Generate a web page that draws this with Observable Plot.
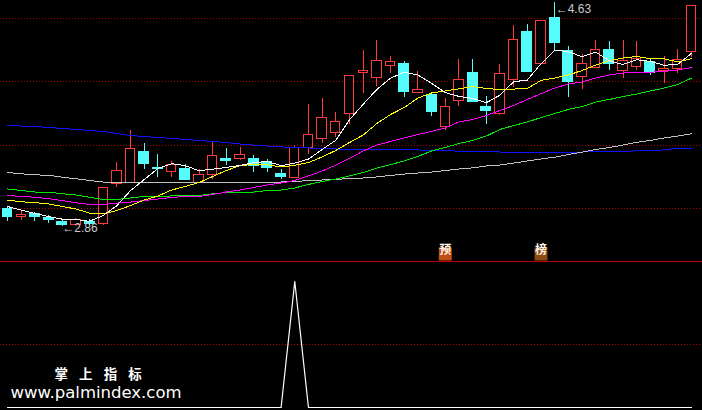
<!DOCTYPE html>
<html><head><meta charset="utf-8">
<script src="https://cdn.jsdelivr.net/npm/d3@7"></script>
<script src="https://cdn.jsdelivr.net/npm/@observablehq/plot@0.6"></script>
<style>
html,body{margin:0;padding:0;background:#000;overflow:hidden;}
#chart{width:702px;}
#chart svg{display:block;}
</style></head><body><div id="chart"></div>
<script>
// Daily candles (price)
const open  = [3.000,2.929,2.961,2.929,2.897,2.866,2.897,2.874,3.197,3.205,3.450,3.324,3.292,3.316,3.205,3.268,3.395,3.387,3.395,3.371,3.276,3.237,3.474,3.545,3.600,3.750,4.068,4.034,4.123,4.145,3.910,3.900,3.640,3.845,4.074,3.805,3.750,4.018,4.397,4.137,4.508,4.247,4.042,4.113,4.255,4.089,4.121,4.161,4.084,4.105,4.232];
const high  = [3.008,2.976,2.968,2.945,2.905,2.921,2.913,3.158,3.363,3.616,3.513,3.426,3.371,3.347,3.308,3.521,3.474,3.482,3.418,3.387,3.308,3.497,3.821,3.868,3.758,4.050,4.247,4.326,4.200,4.161,4.082,3.900,3.868,4.176,4.176,3.884,4.137,4.445,4.453,4.484,4.630,4.279,4.216,4.326,4.318,4.326,4.318,4.176,4.200,4.255,4.595];
const low   = [2.897,2.905,2.897,2.882,2.860,2.862,2.866,2.866,3.166,3.205,3.308,3.245,3.245,3.221,3.197,3.229,3.340,3.379,3.284,3.284,3.229,3.237,3.426,3.513,3.561,3.663,3.908,3.963,4.066,3.876,3.908,3.726,3.616,3.805,3.837,3.663,3.734,3.955,4.074,4.137,4.247,3.876,3.940,4.105,4.089,4.026,4.089,4.050,3.987,4.066,4.192];
const close = [2.929,2.945,2.929,2.909,2.868,2.913,2.874,3.158,3.300,3.466,3.347,3.308,3.347,3.221,3.268,3.411,3.371,3.426,3.332,3.316,3.245,3.474,3.584,3.711,3.679,4.050,4.089,4.168,4.158,3.916,3.937,3.758,3.805,4.011,3.837,3.766,4.058,4.334,4.074,4.484,4.303,3.995,4.137,4.255,4.137,4.161,4.184,4.066,4.105,4.176,4.595];

// Moving averages
const ma5   = [3.016,2.988,2.961,2.937,2.916,2.913,2.899,2.945,3.023,3.142,3.229,3.316,3.354,3.338,3.298,3.311,3.324,3.340,3.362,3.371,3.338,3.358,3.390,3.466,3.538,3.700,3.823,3.940,4.029,4.076,4.054,3.988,3.915,3.885,3.869,3.835,3.895,4.001,4.014,4.143,4.251,4.238,4.198,4.235,4.165,4.137,4.175,4.161,4.131,4.138,4.225];
const ma10  = [3.067,3.053,3.047,3.036,3.016,2.996,2.964,2.957,2.984,3.024,3.067,3.099,3.146,3.174,3.205,3.253,3.300,3.340,3.347,3.345,3.328,3.341,3.363,3.407,3.458,3.521,3.580,3.671,3.742,3.797,3.872,3.912,3.928,3.945,3.963,3.947,3.940,3.943,3.947,4.011,4.030,4.054,4.089,4.133,4.168,4.188,4.200,4.182,4.182,4.157,4.184];
const ma20  = [3.103,3.095,3.089,3.077,3.063,3.045,3.032,3.032,3.043,3.051,3.063,3.075,3.087,3.095,3.095,3.111,3.130,3.146,3.166,3.186,3.201,3.221,3.257,3.296,3.343,3.395,3.454,3.501,3.529,3.557,3.584,3.608,3.636,3.683,3.703,3.734,3.774,3.813,3.861,3.906,3.951,3.983,3.999,4.030,4.054,4.070,4.076,4.076,4.082,4.093,4.113];
const ma60  = [3.154,3.142,3.130,3.129,3.116,3.107,3.089,3.071,3.071,3.083,3.095,3.095,3.099,3.103,3.103,3.116,3.126,3.126,3.130,3.142,3.146,3.162,3.190,3.213,3.233,3.257,3.284,3.320,3.347,3.375,3.411,3.454,3.482,3.513,3.537,3.572,3.624,3.655,3.683,3.718,3.750,3.782,3.805,3.841,3.861,3.884,3.904,3.928,3.951,3.979,4.030];
const ma120 = [3.284,3.274,3.266,3.262,3.247,3.235,3.221,3.209,3.208,3.208,3.207,3.205,3.205,3.205,3.205,3.204,3.203,3.203,3.203,3.203,3.209,3.213,3.221,3.225,3.231,3.235,3.241,3.249,3.261,3.272,3.280,3.288,3.300,3.312,3.321,3.336,3.343,3.359,3.375,3.391,3.405,3.426,3.445,3.466,3.482,3.501,3.523,3.537,3.557,3.572,3.590];
const ma250 = [3.659,3.651,3.647,3.640,3.632,3.624,3.616,3.608,3.592,3.576,3.568,3.561,3.553,3.545,3.537,3.529,3.521,3.509,3.501,3.493,3.486,3.482,3.478,3.474,3.470,3.466,3.463,3.463,3.463,3.463,3.462,3.460,3.458,3.452,3.450,3.448,3.446,3.440,3.440,3.440,3.445,3.438,3.446,3.448,3.448,3.448,3.456,3.456,3.463,3.476,3.476];

// Lower indicator signal
const signal = [0,0,0,0,0,0,0,0,0,0,0,0,0,0,0,0,0,0,0,0,0,1,0,0,0,0,0,0,0,0,0,0,0,0,0,0,0,0,0,0,0,0,0,0,0,0,0,0,0,0,0];

// Grid levels and tag labels
const priceGrid = [3.0, 3.5, 4.0, 4.5];
const signalGrid = [0.5];
const tagText = ["预", "榜"];
const tagIndex = [32, 39];
const tagColor = ["#c24e14", "#8a4b12"];
const watermark1 = "掌 上 指 标";
const watermark2 = "www.palmindex.com";

const idx = d3.range(open.length);
const candles = idx.map(i => ({i, o: open[i], h: high[i], l: low[i], c: close[i]}));
const up = candles.filter(d => d.c >= d.o);
const down = candles.filter(d => d.c < d.o);
const RED = "#ff3c3c", CYAN = "#54fcfc";
const hiI = d3.maxIndex(high), loI = d3.minIndex(low);
const xOpt = {type: "linear", domain: [0, 50], range: [7, 691], axis: null};

const maLines = [
  [ma250, "#1010ff"],
  [ma120, "#c0c0c0"],
  [ma60, "#00e800"],
  [ma20, "#ff00ff"],
  [ma10, "#ffff00"],
  [ma5, "#ffffff"]
];

const pricePlot = Plot.plot({
  width: 702, height: 261, margin: 0,
  style: {background: "#000", overflow: "visible"},
  x: xOpt,
  y: {domain: [3.0, 4.5], range: [208, 18], axis: null},
  marks: [
    Plot.ruleY(priceGrid, {stroke: "#b00000", strokeDasharray: "1,2", shapeRendering: "crispEdges"}),
    Plot.ruleX(up, {x: "i", y1: "l", y2: "h", stroke: RED, shapeRendering: "crispEdges"}),
    Plot.ruleX(down, {x: "i", y1: "l", y2: "h", stroke: CYAN, shapeRendering: "crispEdges"}),
    Plot.rect(up, {x1: d => d.i - 0.34, x2: d => d.i + 0.34, y1: "o", y2: "c", fill: "#000", stroke: RED, shapeRendering: "crispEdges"}),
    Plot.rect(down, {x1: d => d.i - 0.4, x2: d => d.i + 0.4, y1: "o", y2: "c", fill: CYAN, shapeRendering: "crispEdges"}),
    ...maLines.map(([arr, col]) => Plot.line(idx, {x: d => d, y: d => arr[d], stroke: col, strokeWidth: 1, shapeRendering: "crispEdges"})),
    Plot.text([hiI], {x: d => d, y: d => high[d], text: d => "←" + high[d].toFixed(2), textAnchor: "start", dx: 1, dy: 7, fill: "#c8c8c8", fontSize: 12, fontFamily: "Liberation Sans, DejaVu Sans"}),
    Plot.text([loI], {x: d => d, y: d => low[d], text: d => "←" + low[d].toFixed(2), textAnchor: "start", dx: 0, dy: 2, fill: "#c8c8c8", fontSize: 12, fontFamily: "Liberation Sans, DejaVu Sans"}),
    ...tagText.map((t, k) => Plot.dot([tagIndex[k]], {x: d => d, frameAnchor: "bottom", dy: -7.5, symbol: "square", r: 7.3, fill: tagColor[k], stroke: "none"})),
    ...tagText.map((t, k) => Plot.text([tagIndex[k]], {x: d => d, text: () => t, frameAnchor: "bottom", dy: -7.5, fill: "#fff4e8", fontSize: 12, fontWeight: "bold", fontFamily: "Noto Sans CJK SC"}))
  ]
});

const sigPlot = Plot.plot({
  width: 702, height: 148, margin: 0,
  style: {background: "#000"},
  x: xOpt,
  y: {domain: [0, 1], range: [145, 19], axis: null},
  marks: [
    Plot.ruleY(signalGrid, {stroke: "#b00000", strokeDasharray: "1,2", shapeRendering: "crispEdges"}),
    Plot.line(idx, {x: d => d, y: d => signal[d], stroke: "#fff", strokeWidth: 1.2}),
    Plot.text([watermark1], {frameAnchor: "top-left", dx: 54, dy: 116, textAnchor: "start", lineAnchor: "bottom", fill: "#fff", fontSize: 13.5, fontWeight: "bold", fontFamily: "Noto Sans CJK SC"}),
    Plot.text([watermark2], {frameAnchor: "top-left", dx: 10, dy: 135, textAnchor: "start", lineAnchor: "bottom", fill: "#fff", fontSize: 16.5, fontFamily: "DejaVu Sans"})
  ]
});
sigPlot.style.borderTop = "1px solid #c00000";
d3.select(sigPlot).selectAll("text").filter(function() { return this.textContent === watermark1; }).style("letter-spacing", "4px");

document.getElementById("chart").append(pricePlot, sigPlot);
</script></body></html>
